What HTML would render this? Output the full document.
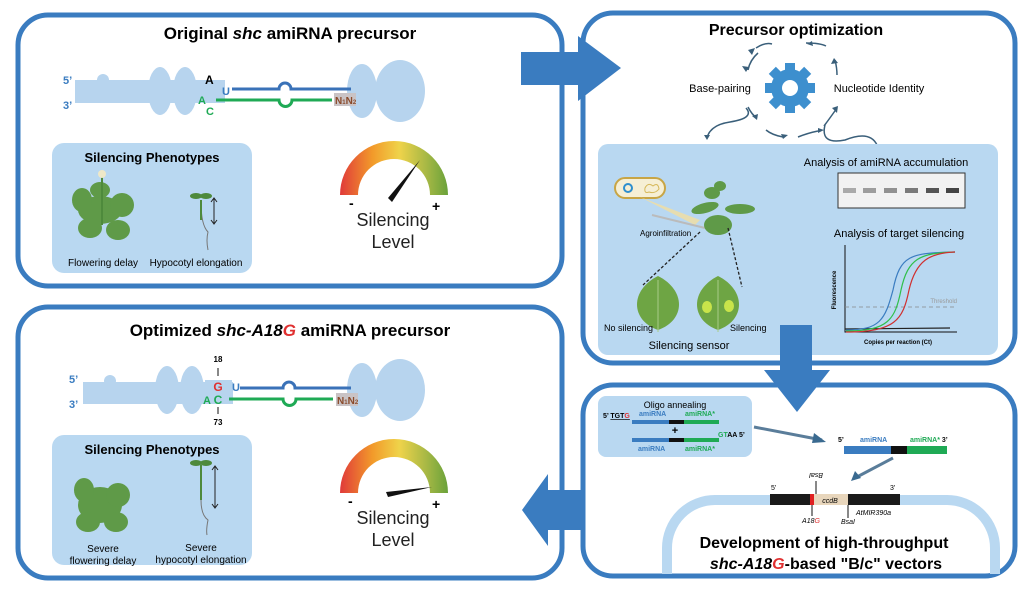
<!DOCTYPE html>
<html><head><meta charset="utf-8"><style>
html,body{margin:0;padding:0;background:#fff;width:1032px;height:597px;overflow:hidden;}
svg{display:block;font-family:"Liberation Sans",sans-serif;}
</style></head><body>
<svg width="1032" height="597" viewBox="0 0 1032 597" xmlns="http://www.w3.org/2000/svg">
<defs>
<linearGradient id="gg" x1="0" x2="1" y1="0" y2="0">
<stop offset="0" stop-color="#e03a3a"/><stop offset="0.3" stop-color="#f29a2a"/><stop offset="0.55" stop-color="#efd34a"/><stop offset="0.8" stop-color="#a7b845"/><stop offset="1" stop-color="#6aa23a"/>
</linearGradient>
</defs>
<rect x="18" y="15" width="544" height="271" rx="30" fill="#fff" stroke="#3a7cc0" stroke-width="5"/>
<rect x="583" y="13" width="432" height="350" rx="30" fill="#fff" stroke="#3a7cc0" stroke-width="5"/>
<rect x="18" y="307" width="544" height="271" rx="30" fill="#fff" stroke="#3a7cc0" stroke-width="5"/>
<rect x="583" y="385" width="432" height="191" rx="30" fill="#fff" stroke="#3a7cc0" stroke-width="5"/>

<!-- Box1 -->
<text x="290" y="39" font-size="17" font-weight="bold" text-anchor="middle">Original <tspan font-style="italic">shc</tspan> amiRNA precursor</text>
<g fill="#b7d4ee">
<rect x="75" y="80" width="150" height="23"/><circle cx="103" cy="80" r="6"/>
<ellipse cx="160" cy="91" rx="12" ry="24"/><ellipse cx="185" cy="91" rx="12" ry="24"/>
<path d="M198,90 A23,23 0 0 1 223,90 Z"/>
<ellipse cx="362" cy="91" rx="15" ry="27"/><ellipse cx="400" cy="91" rx="25" ry="31"/>
</g>
<text x="63" y="84" font-size="11" font-weight="bold" fill="#3a7cc0">5’</text>
<text x="63" y="109" font-size="11" font-weight="bold" fill="#3a7cc0">3’</text>
<text x="205" y="84" font-size="12" font-weight="bold">A</text>
<text x="222" y="95" font-size="11" font-weight="bold" fill="#3a7cc0">U</text>
<text x="198" y="104" font-size="11" font-weight="bold" fill="#1faa55">A</text>
<text x="206" y="115" font-size="11" font-weight="bold" fill="#1faa55">C</text>
<path d="M232,89 L279,89 A6,6 0 1 1 291,89 L351,89" fill="none" stroke="#3a72b8" stroke-width="3"/>
<path d="M216,100 L279,100 A6,6 0 1 0 292,100 L332,100" fill="none" stroke="#1faa55" stroke-width="3"/>
<rect x="334" y="93" width="22" height="13" fill="#c9c3c5"/>
<text x="335" y="104" font-size="10" font-weight="bold" fill="#8a4a2a">N<tspan font-size="6">1</tspan>N<tspan font-size="6">2</tspan></text>
<rect x="52" y="143" width="200" height="130" rx="12" fill="#b9d8f1"/>
<text x="152" y="162" font-size="13" font-weight="bold" text-anchor="middle">Silencing Phenotypes</text>
<g fill="#5f9a48"><ellipse cx="100" cy="210" rx="22" ry="14"/><ellipse cx="82" cy="200" rx="10" ry="12"/><ellipse cx="122" cy="205" rx="12" ry="12"/><ellipse cx="90" cy="228" rx="12" ry="10"/><ellipse cx="118" cy="230" rx="12" ry="10"/><ellipse cx="100" cy="190" rx="10" ry="8"/></g>
<line x1="102" y1="175" x2="102" y2="225" stroke="#4e8a3c" stroke-width="2"/><circle cx="102" cy="174" r="4" fill="#eee8c8"/>
<path d="M201,202 Q201,225 208,232 Q206,240 208,250" fill="none" stroke="#777" stroke-width="1"/>
<line x1="201" y1="200" x2="201" y2="220" stroke="#4e8a3c" stroke-width="2"/>
<ellipse cx="196" cy="196" rx="6" ry="3" fill="#4e8a3c"/><ellipse cx="206" cy="196" rx="6" ry="3" fill="#4e8a3c"/>
<path d="M214,199 L214,223 M211,202 L214,198 L217,202 M211,220 L214,224 L217,220" fill="none" stroke="#222" stroke-width="1"/>
<text x="103" y="266" font-size="10" text-anchor="middle">Flowering delay</text>
<text x="196" y="266" font-size="10" text-anchor="middle">Hypocotyl elongation</text>
<path d="M340,195 A54,54 0 0 1 448,195 L430,195 A36,36 0 0 0 358,195 Z" fill="url(#gg)"/>
<path d="M388,198 L420,160 L392,202 Z" fill="#111"/>
<text x="349" y="208" font-size="14" font-weight="bold">-</text><text x="432" y="211" font-size="14" font-weight="bold">+</text>
<text x="393" y="226" font-size="18" text-anchor="middle" fill="#222">Silencing</text>
<text x="393" y="248" font-size="18" text-anchor="middle" fill="#222">Level</text>

<!-- Box3 -->
<text x="290" y="336" font-size="17" font-weight="bold" text-anchor="middle">Optimized <tspan font-style="italic">shc-A18<tspan fill="#e03030">G</tspan></tspan> amiRNA precursor</text>
<g fill="#b7d4ee">
<rect x="83" y="382" width="150" height="22"/><circle cx="110" cy="381" r="6"/>
<ellipse cx="167" cy="390" rx="12" ry="24"/><ellipse cx="192" cy="390" rx="12" ry="24"/>
<rect x="205" y="380" width="27" height="12"/>
<ellipse cx="362" cy="390" rx="15" ry="27"/><ellipse cx="400" cy="390" rx="25" ry="31"/>
</g>
<text x="69" y="383" font-size="11" font-weight="bold" fill="#3a7cc0">5’</text>
<text x="69" y="408" font-size="11" font-weight="bold" fill="#3a7cc0">3’</text>
<text x="218" y="362" font-size="8" font-weight="bold" text-anchor="middle">18</text>
<line x1="218" y1="368" x2="218" y2="376" stroke="#111"/>
<text x="218" y="391" font-size="12" font-weight="bold" fill="#e03030" text-anchor="middle">G</text>
<text x="232" y="391" font-size="11" font-weight="bold" fill="#3a7cc0">U</text>
<text x="203" y="404" font-size="11" font-weight="bold" fill="#1faa55">A</text>
<text x="218" y="404" font-size="12" font-weight="bold" fill="#1faa55" text-anchor="middle">C</text>
<line x1="218" y1="407" x2="218" y2="414" stroke="#111"/>
<text x="218" y="425" font-size="8" font-weight="bold" text-anchor="middle">73</text>
<path d="M240,388 L283,388 A6,6 0 1 1 295,388 L351,388" fill="none" stroke="#3a72b8" stroke-width="3"/>
<path d="M229,399 L283,399 A6,6 0 1 0 296,399 L333,399" fill="none" stroke="#1faa55" stroke-width="3"/>
<rect x="336" y="393" width="22" height="13" fill="#c9c3c5"/>
<text x="337" y="404" font-size="10" font-weight="bold" fill="#8a4a2a">N<tspan font-size="6">1</tspan>N<tspan font-size="6">2</tspan></text>
<rect x="52" y="435" width="200" height="130" rx="12" fill="#b9d8f1"/>
<text x="152" y="454" font-size="13" font-weight="bold" text-anchor="middle">Silencing Phenotypes</text>
<g fill="#5f9a48"><ellipse cx="100" cy="505" rx="22" ry="18"/><ellipse cx="84" cy="490" rx="10" ry="12"/><ellipse cx="118" cy="495" rx="12" ry="12"/><ellipse cx="88" cy="522" rx="12" ry="10"/><ellipse cx="116" cy="522" rx="12" ry="10"/></g>
<path d="M201,470 L201,500 Q201,515 208,520 Q206,530 207,535" fill="none" stroke="#777" stroke-width="1"/>
<line x1="201" y1="465" x2="201" y2="500" stroke="#4e8a3c" stroke-width="2"/>
<ellipse cx="196" cy="463" rx="6" ry="3" fill="#4e8a3c"/><ellipse cx="206" cy="463" rx="6" ry="3" fill="#4e8a3c"/>
<path d="M215,467 L215,507 M212,470 L215,466 L218,470 M212,504 L215,508 L218,504" fill="none" stroke="#222" stroke-width="1"/>
<text x="103" y="552" font-size="10" text-anchor="middle">Severe</text>
<text x="103" y="564" font-size="10" text-anchor="middle">flowering delay</text>
<text x="201" y="551" font-size="10" text-anchor="middle">Severe</text>
<text x="201" y="563" font-size="10" text-anchor="middle">hypocotyl elongation</text>
<path d="M340,493 A54,54 0 0 1 448,493 L430,493 A36,36 0 0 0 358,493 Z" fill="url(#gg)"/>
<path d="M386,492 L432,487 L388,497 Z" fill="#111"/>
<text x="348" y="506" font-size="14" font-weight="bold">-</text><text x="432" y="509" font-size="14" font-weight="bold">+</text>
<text x="393" y="524" font-size="18" text-anchor="middle" fill="#222">Silencing</text>
<text x="393" y="546" font-size="18" text-anchor="middle" fill="#222">Level</text>

<!-- Box2 -->
<text x="796" y="35" font-size="16" font-weight="bold" text-anchor="middle">Precursor optimization</text>
<g fill="none" stroke="#3a5f7a" stroke-width="1.5">
<path d="M758,53 Q750,60 748,70"/><path d="M837,75 Q837,68 835,60"/>
<path d="M826,46 Q820,43 806,43"/><path d="M772,44 Q765,42 756,48"/>
<path d="M748,107 Q752,115 757,118"/><path d="M766,130 Q772,135 783,137"/><path d="M798,137 Q808,133 818,131"/><path d="M824,126 Q830,118 837,108"/>
<path d="M746,108 Q755,118 730,122 Q710,125 707,138"/><path d="M825,125 Q820,145 845,140 Q870,130 877,145"/>
</g>
<g fill="#3a5f7a">
<path d="M746,72 l-4,-6 l7,1 z"/><path d="M834,58 l-3,6 l7,-1 z"/><path d="M757,120 l-5,-4 l6,-2 z"/><path d="M783,139 l-2,-5 l7,1 z"/><path d="M818,133 l0,-5 l6,2 z"/><path d="M838,106 l-6,2 l5,5 z"/><path d="M707,140 l-3,-5 l6,0 z"/><path d="M755,48 l-7,2 l4,5z"/><path d="M807,44 l5,-3 l1,5z"/>
</g>
<circle cx="790" cy="88" r="19" fill="#3d8fce"/>
<g fill="#3d8fce"><rect x="785" y="63" width="10" height="50"/><rect x="765" y="83" width="50" height="10"/><rect x="785" y="63" width="10" height="50" transform="rotate(45 790 88)"/><rect x="785" y="63" width="10" height="50" transform="rotate(-45 790 88)"/></g>
<circle cx="790" cy="88" r="8" fill="#fff"/>
<text x="720" y="92" font-size="11" text-anchor="middle">Base-pairing</text>
<text x="879" y="92" font-size="11" text-anchor="middle">Nucleotide Identity</text>
<rect x="598" y="144" width="400" height="211" rx="10" fill="#b9d8f1"/>
<text x="886" y="166" font-size="11" text-anchor="middle">Analysis of amiRNA accumulation</text>
<rect x="838" y="173" width="127" height="35" fill="#f2f2f2" stroke="#333"/>
<g><rect x="843" y="188" width="13" height="5" fill="#aaa"/><rect x="863" y="188" width="13" height="5" fill="#9d9d9d"/><rect x="884" y="188" width="13" height="5" fill="#919191"/><rect x="905" y="188" width="13" height="5" fill="#7a7a7a"/><rect x="926" y="188" width="13" height="5" fill="#555"/><rect x="946" y="188" width="13" height="5" fill="#444"/></g>
<text x="899" y="237" font-size="11" text-anchor="middle">Analysis of target silencing</text>
<path d="M845,245 L845,332 L957,332" fill="none" stroke="#111"/>
<line x1="845" y1="307" x2="957" y2="307" stroke="#888" stroke-dasharray="4,3" stroke-width="0.8"/>
<text x="957" y="303" font-size="6" fill="#999" text-anchor="end">Threshold</text>
<path d="M845,329 L950,328" stroke="#222" fill="none" stroke-width="1.2"/>
<path d="M846,330 C880,330 885,320 893,290 C900,255 910,253 955,252" fill="none" stroke="#3a7cc0" stroke-width="1.2"/>
<path d="M846,331 C888,331 895,320 901,290 C908,258 920,253 955,252" fill="none" stroke="#2fbf4a" stroke-width="1.2"/>
<path d="M846,332 C895,332 903,320 909,290 C916,260 930,253 955,252" fill="none" stroke="#d03030" stroke-width="1.2"/>
<text x="836" y="290" font-size="6" font-weight="bold" transform="rotate(-90 836 290)" text-anchor="middle">Fluorescence</text>
<text x="898" y="344" font-size="6" font-weight="bold" text-anchor="middle">Copies per reaction (Ct)</text>
<rect x="615" y="178" width="50" height="20" rx="10" fill="#f6efd5" stroke="#c8a545" stroke-width="2"/>
<circle cx="628" cy="188" r="4" fill="none" stroke="#2f8fce" stroke-width="2"/>
<path d="M645,188 q3,-6 8,-2 q5,-4 6,3 q-4,5 -10,3 q-5,2 -4,-4z" fill="none" stroke="#d6b85a"/>
<path d="M640,197 L700,220 L695,225 Z" fill="#f3dfa0" opacity="0.8"/>
<line x1="652" y1="215" x2="705" y2="228" stroke="#bbb" stroke-width="2"/>
<g fill="#5f9a48"><ellipse cx="718" cy="225" rx="14" ry="10"/><ellipse cx="705" cy="208" rx="14" ry="5" transform="rotate(-15 705 208)"/><ellipse cx="740" cy="209" rx="15" ry="5"/><ellipse cx="712" cy="193" rx="8" ry="6"/><ellipse cx="720" cy="186" rx="6" ry="5"/></g>
<text x="640" y="236" font-size="8">Agroinfiltration</text>
<line x1="700" y1="232" x2="643" y2="285" stroke="#222" stroke-dasharray="3,2" stroke-width="1.3"/>
<line x1="728" y1="228" x2="742" y2="287" stroke="#222" stroke-dasharray="3,2" stroke-width="1.3"/>
<path d="M658,330 C630,320 630,290 658,276 C686,290 686,320 658,330Z" fill="#6ea544"/>
<line x1="658" y1="280" x2="658" y2="332" stroke="#a8cc88"/>
<path d="M718,330 C690,320 690,290 718,276 C746,290 746,320 718,330Z" fill="#6ea544"/>
<ellipse cx="707" cy="307" rx="5" ry="6" fill="#c9e44a"/><ellipse cx="729" cy="306" rx="5" ry="6" fill="#c9e44a"/>
<line x1="718" y1="280" x2="718" y2="332" stroke="#a8cc88"/>
<text x="604" y="331" font-size="9">No silencing</text>
<text x="730" y="331" font-size="9">Silencing</text>
<text x="689" y="349" font-size="11" text-anchor="middle">Silencing sensor</text>

<!-- Box4 -->
<path d="M667,574 L667,548 A48,48 0 0 1 715,500 L947,500 A48,48 0 0 1 995,548 L995,574" fill="none" stroke="#b9d8f1" stroke-width="10"/>
<rect x="598" y="396" width="154" height="61" rx="8" fill="#b9d8f1"/>
<text x="675" y="408" font-size="9" text-anchor="middle">Oligo annealing</text>
<text x="603" y="418" font-size="7" font-weight="bold">5’ <tspan text-decoration="underline">TGT<tspan fill="#e03030">G</tspan></tspan></text>
<text x="639" y="416" font-size="7" font-weight="bold" fill="#3a7cc0">amiRNA</text>
<text x="685" y="416" font-size="7" font-weight="bold" fill="#1faa55">amiRNA*</text>
<rect x="632" y="420" width="37" height="4" fill="#3a7cc0"/><rect x="669" y="420" width="15" height="4" fill="#111"/><rect x="684" y="420" width="35" height="4" fill="#1faa55"/>
<text x="675" y="434" font-size="11" font-weight="bold" text-anchor="middle">+</text>
<rect x="632" y="438" width="37" height="4" fill="#3a7cc0"/><rect x="669" y="438" width="15" height="4" fill="#111"/><rect x="684" y="438" width="35" height="4" fill="#1faa55"/>
<text x="718" y="437" font-size="7" font-weight="bold"><tspan fill="#1faa55">GT</tspan>AA 5’</text>
<text x="638" y="451" font-size="7" font-weight="bold" fill="#3a7cc0">amiRNA</text>
<text x="685" y="451" font-size="7" font-weight="bold" fill="#1faa55">amiRNA*</text>
<path d="M754,427 L822,440" stroke="#5a7d9a" stroke-width="3"/><path d="M826,442 l-12,-9 l-2,10z" fill="#3a6a90"/>
<text x="838" y="442" font-size="7" font-weight="bold">5’</text>
<text x="860" y="442" font-size="7" font-weight="bold" fill="#3a7cc0">amiRNA</text>
<text x="910" y="442" font-size="7" font-weight="bold" fill="#1faa55">amiRNA* <tspan fill="#111">3’</tspan></text>
<rect x="844" y="446" width="67" height="8" fill="#3a7cc0"/><rect x="891" y="446" width="17" height="8" fill="#111"/><rect x="907" y="446" width="40" height="8" fill="#1faa55"/>
<path d="M893,458 L855,478" stroke="#5a7d9a" stroke-width="3"/><path d="M851,481 l4,-10 l6,7z" fill="#3a6a90"/>
<rect x="770" y="494" width="130" height="11" fill="#1a1a1a"/>
<rect x="812" y="494" width="36" height="11" fill="#e8d6bc"/>
<rect x="810" y="494" width="4" height="11" fill="#e02020"/>
<text x="830" y="503" font-size="7" font-style="italic" text-anchor="middle">ccdB</text>
<text x="771" y="490" font-size="7">5’</text><text x="890" y="490" font-size="7">3’</text>
<line x1="816" y1="481" x2="816" y2="494" stroke="#111"/><line x1="848" y1="505" x2="848" y2="518" stroke="#111"/><line x1="812" y1="505" x2="812" y2="516" stroke="#111"/>
<text x="816" y="479" font-size="7" font-style="italic" text-anchor="middle" transform="rotate(180 816 476)">BsaI</text>
<text x="811" y="523" font-size="7" font-style="italic" text-anchor="middle">A18<tspan fill="#e03030">G</tspan></text>
<text x="848" y="524" font-size="7" font-style="italic" text-anchor="middle">BsaI</text>
<text x="856" y="515" font-size="7" font-style="italic">AtMIR390a</text>
<text x="824" y="548" font-size="16" font-weight="bold" text-anchor="middle">Development of high-throughput</text>
<text x="826" y="569" font-size="16" font-weight="bold" text-anchor="middle"><tspan font-style="italic">shc-A18<tspan fill="#e03030">G</tspan></tspan>-based  "B/c" vectors</text>

<path d="M521,52 L578,52 L578,36 L621,68 L578,101 L578,85 L521,85 Z" fill="#3a7cc0"/>
<path d="M780,325 L812,325 L812,370 L830,370 L797,412 L764,370 L780,370 Z" fill="#3a7cc0"/>
<path d="M582,490 L548,490 L548,474 L522,510 L548,546 L548,530 L582,530 Z" fill="#3a7cc0"/>
</svg>
</body></html>
